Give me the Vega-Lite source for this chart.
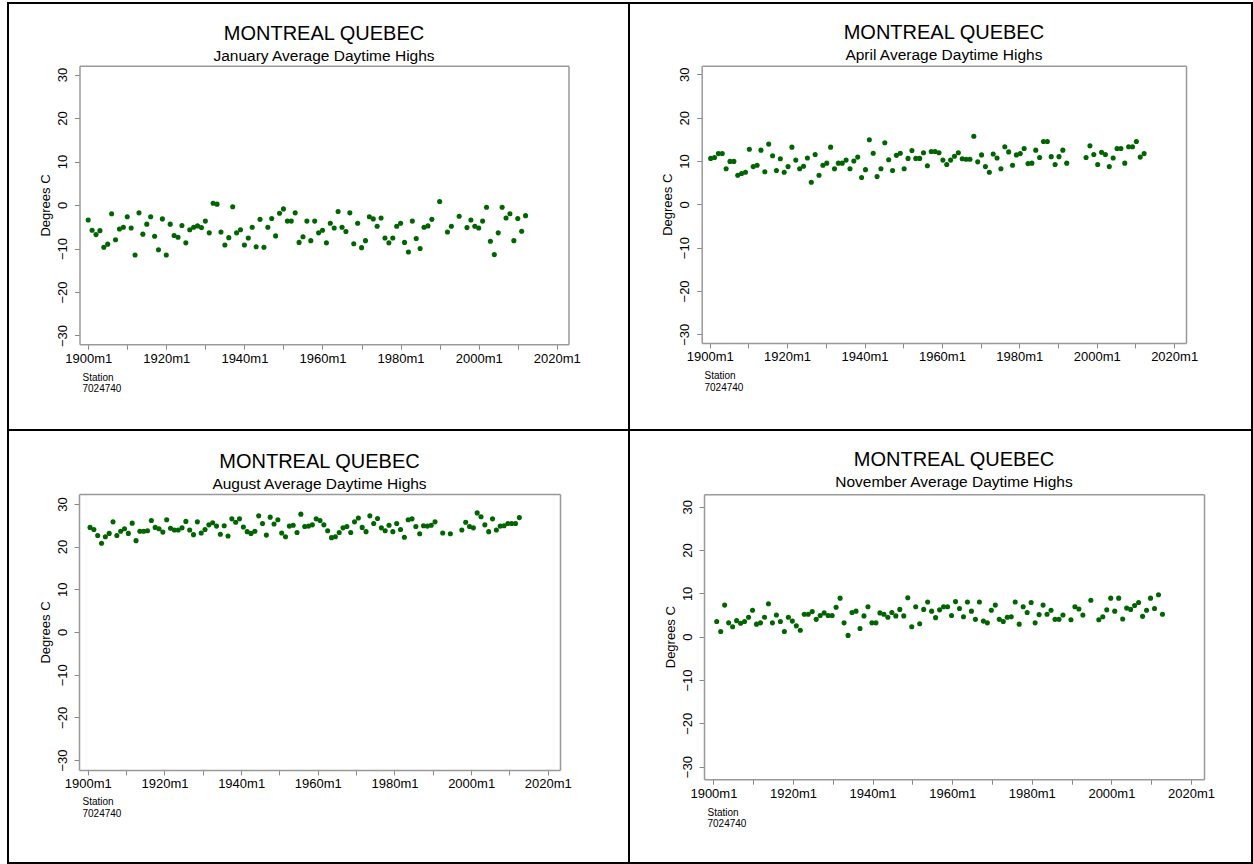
{
"$schema": "https://vega.github.io/schema/vega-lite/v6.json",
"padding": {"left": 7, "top": 2, "right": 0, "bottom": 0},
"background": "white",
"columns": 2,
"spacing": 0,
"bounds": "flush",
"align": "each",
"datasets": {
"jan": [
{"date":"1900-01","t":-3.45},{"date":"1901-01","t":-5.8},{"date":"1902-01","t":-6.8},{"date":"1903-01","t":-5.9},{"date":"1904-01","t":-9.7},{"date":"1905-01","t":-9.0},{"date":"1906-01","t":-2.0},{"date":"1907-01","t":-8.0},{"date":"1908-01","t":-5.5},{"date":"1909-01","t":-5.1},
{"date":"1910-01","t":-2.7},{"date":"1911-01","t":-5.3},{"date":"1912-01","t":-11.5},{"date":"1913-01","t":-1.8},{"date":"1914-01","t":-6.7},{"date":"1915-01","t":-4.4},{"date":"1916-01","t":-2.7},{"date":"1917-01","t":-7.2},{"date":"1918-01","t":-10.3},{"date":"1919-01","t":-3.2},
{"date":"1920-01","t":-11.5},{"date":"1921-01","t":-4.4},{"date":"1922-01","t":-7.0},{"date":"1923-01","t":-7.4},{"date":"1924-01","t":-4.7},{"date":"1925-01","t":-8.7},{"date":"1926-01","t":-5.7},{"date":"1927-01","t":-5.1},{"date":"1928-01","t":-4.8},{"date":"1929-01","t":-5.2},
{"date":"1930-01","t":-3.7},{"date":"1931-01","t":-6.4},{"date":"1932-01","t":0.4},{"date":"1933-01","t":0.2},{"date":"1934-01","t":-6.2},{"date":"1935-01","t":-9.2},{"date":"1936-01","t":-7.5},{"date":"1937-01","t":-0.4},{"date":"1938-01","t":-6.4},{"date":"1939-01","t":-5.7},
{"date":"1940-01","t":-9.2},{"date":"1941-01","t":-7.6},{"date":"1942-01","t":-5.1},{"date":"1943-01","t":-9.6},{"date":"1944-01","t":-3.3},{"date":"1945-01","t":-9.7},{"date":"1946-01","t":-5.1},{"date":"1947-01","t":-3.1},{"date":"1948-01","t":-7.1},{"date":"1949-01","t":-1.9},
{"date":"1950-01","t":-0.9},{"date":"1951-01","t":-3.7},{"date":"1952-01","t":-3.7},{"date":"1953-01","t":-1.8},{"date":"1954-01","t":-8.6},{"date":"1955-01","t":-7.3},{"date":"1956-01","t":-3.7},{"date":"1957-01","t":-8.2},{"date":"1958-01","t":-3.7},{"date":"1959-01","t":-6.4},
{"date":"1960-01","t":-5.8},{"date":"1961-01","t":-8.7},{"date":"1962-01","t":-4.2},{"date":"1963-01","t":-5.3},{"date":"1964-01","t":-1.5},{"date":"1965-01","t":-5.1},{"date":"1966-01","t":-6.1},{"date":"1967-01","t":-1.8},{"date":"1968-01","t":-8.9},{"date":"1969-01","t":-4.2},
{"date":"1970-01","t":-9.8},{"date":"1971-01","t":-8.2},{"date":"1972-01","t":-2.7},{"date":"1973-01","t":-3.2},{"date":"1974-01","t":-4.9},{"date":"1975-01","t":-3.0},{"date":"1976-01","t":-7.6},{"date":"1977-01","t":-8.7},{"date":"1978-01","t":-7.6},{"date":"1979-01","t":-4.9},
{"date":"1980-01","t":-4.2},{"date":"1981-01","t":-8.6},{"date":"1982-01","t":-10.8},{"date":"1983-01","t":-3.7},{"date":"1984-01","t":-7.7},{"date":"1985-01","t":-10.0},{"date":"1986-01","t":-5.1},{"date":"1987-01","t":-4.8},{"date":"1988-01","t":-3.3},{"date":"1990-01","t":0.8},
{"date":"1992-01","t":-6.2},{"date":"1993-01","t":-4.9},{"date":"1995-01","t":-2.6},{"date":"1997-01","t":-5.2},{"date":"1998-01","t":-3.45},{"date":"1999-01","t":-4.9},{"date":"2000-01","t":-5.3},{"date":"2001-01","t":-3.7},{"date":"2002-01","t":-0.5},{"date":"2003-01","t":-8.35},
{"date":"2004-01","t":-11.4},{"date":"2005-01","t":-6.4},{"date":"2006-01","t":-0.5},{"date":"2007-01","t":-3.0},{"date":"2008-01","t":-2.0},{"date":"2009-01","t":-8.2},{"date":"2010-01","t":-3.1},{"date":"2011-01","t":-6.05},{"date":"2012-01","t":-2.45}
],
"apr": [
{"date":"1900-04","t":10.6},{"date":"1901-04","t":10.8},{"date":"1902-04","t":11.7},{"date":"1903-04","t":11.7},{"date":"1904-04","t":8.2},{"date":"1905-04","t":9.9},{"date":"1906-04","t":9.9},{"date":"1907-04","t":6.7},{"date":"1908-04","t":7.1},{"date":"1909-04","t":7.4},
{"date":"1910-04","t":12.7},{"date":"1911-04","t":8.7},{"date":"1912-04","t":9.0},{"date":"1913-04","t":12.5},{"date":"1914-04","t":7.5},{"date":"1915-04","t":13.9},{"date":"1916-04","t":11.2},{"date":"1917-04","t":7.8},{"date":"1918-04","t":10.5},{"date":"1919-04","t":7.4},
{"date":"1920-04","t":8.7},{"date":"1921-04","t":13.2},{"date":"1922-04","t":10.2},{"date":"1923-04","t":8.2},{"date":"1924-04","t":8.8},{"date":"1925-04","t":10.7},{"date":"1926-04","t":5.1},{"date":"1927-04","t":11.5},{"date":"1928-04","t":6.7},{"date":"1929-04","t":9.0},
{"date":"1930-04","t":9.5},{"date":"1931-04","t":13.2},{"date":"1932-04","t":8.2},{"date":"1933-04","t":9.5},{"date":"1934-04","t":9.5},{"date":"1935-04","t":10.2},{"date":"1936-04","t":8.2},{"date":"1937-04","t":10.0},{"date":"1938-04","t":10.9},{"date":"1939-04","t":6.2},
{"date":"1940-04","t":8.0},{"date":"1941-04","t":14.9},{"date":"1942-04","t":11.8},{"date":"1943-04","t":6.4},{"date":"1944-04","t":8.2},{"date":"1945-04","t":14.2},{"date":"1946-04","t":10.3},{"date":"1947-04","t":7.8},{"date":"1948-04","t":11.3},{"date":"1949-04","t":11.8},
{"date":"1950-04","t":8.2},{"date":"1951-04","t":10.6},{"date":"1952-04","t":12.4},{"date":"1953-04","t":10.6},{"date":"1954-04","t":10.6},{"date":"1955-04","t":11.9},{"date":"1956-04","t":8.9},{"date":"1957-04","t":12.2},{"date":"1958-04","t":12.2},{"date":"1959-04","t":11.9},
{"date":"1960-04","t":10.2},{"date":"1961-04","t":9.2},{"date":"1962-04","t":10.2},{"date":"1963-04","t":11.1},{"date":"1964-04","t":11.9},{"date":"1965-04","t":10.5},{"date":"1966-04","t":10.4},{"date":"1967-04","t":10.4},{"date":"1968-04","t":15.7},{"date":"1969-04","t":9.8},
{"date":"1970-04","t":11.4},{"date":"1971-04","t":8.7},{"date":"1972-04","t":7.4},{"date":"1973-04","t":11.6},{"date":"1974-04","t":10.7},{"date":"1975-04","t":8.2},{"date":"1976-04","t":13.3},{"date":"1977-04","t":12.1},{"date":"1978-04","t":9.0},{"date":"1979-04","t":11.4},
{"date":"1980-04","t":11.7},{"date":"1981-04","t":12.9},{"date":"1982-04","t":9.4},{"date":"1983-04","t":9.5},{"date":"1984-04","t":12.5},{"date":"1985-04","t":10.8},{"date":"1986-04","t":14.5},{"date":"1987-04","t":14.5},{"date":"1988-04","t":11.0},{"date":"1989-04","t":9.2},
{"date":"1990-04","t":11.0},{"date":"1991-04","t":12.5},{"date":"1992-04","t":9.5},{"date":"1997-04","t":10.8},{"date":"1998-04","t":13.5},{"date":"1999-04","t":11.5},{"date":"2000-04","t":9.2},{"date":"2001-04","t":12.0},{"date":"2002-04","t":11.5},{"date":"2003-04","t":8.7},
{"date":"2004-04","t":10.7},{"date":"2005-04","t":12.9},{"date":"2006-04","t":12.9},{"date":"2007-04","t":9.5},{"date":"2008-04","t":13.3},{"date":"2009-04","t":13.3},{"date":"2010-04","t":14.5},{"date":"2011-04","t":10.9},{"date":"2012-04","t":11.7}
],
"aug": [
{"date":"1900-08","t":24.5},{"date":"1901-08","t":24.0},{"date":"1902-08","t":22.6},{"date":"1903-08","t":20.8},{"date":"1904-08","t":22.3},{"date":"1905-08","t":23.1},{"date":"1906-08","t":25.8},{"date":"1907-08","t":22.6},{"date":"1908-08","t":23.6},{"date":"1909-08","t":24.2},
{"date":"1910-08","t":23.1},{"date":"1911-08","t":25.5},{"date":"1912-08","t":21.4},{"date":"1913-08","t":23.6},{"date":"1914-08","t":23.6},{"date":"1915-08","t":23.7},{"date":"1916-08","t":26.1},{"date":"1917-08","t":24.5},{"date":"1918-08","t":24.2},{"date":"1919-08","t":23.4},
{"date":"1920-08","t":26.3},{"date":"1921-08","t":24.3},{"date":"1922-08","t":23.9},{"date":"1923-08","t":23.9},{"date":"1924-08","t":24.4},{"date":"1925-08","t":25.9},{"date":"1926-08","t":23.9},{"date":"1927-08","t":22.8},{"date":"1928-08","t":25.8},{"date":"1929-08","t":23.2},
{"date":"1930-08","t":24.0},{"date":"1931-08","t":25.1},{"date":"1932-08","t":25.6},{"date":"1933-08","t":24.8},{"date":"1934-08","t":22.9},{"date":"1935-08","t":24.9},{"date":"1936-08","t":22.5},{"date":"1937-08","t":26.5},{"date":"1938-08","t":25.7},{"date":"1939-08","t":26.5},
{"date":"1940-08","t":24.6},{"date":"1941-08","t":23.5},{"date":"1942-08","t":23.1},{"date":"1943-08","t":23.6},{"date":"1944-08","t":27.2},{"date":"1945-08","t":25.4},{"date":"1946-08","t":22.7},{"date":"1947-08","t":26.9},{"date":"1948-08","t":25.3},{"date":"1949-08","t":26.3},
{"date":"1950-08","t":23.2},{"date":"1951-08","t":22.3},{"date":"1952-08","t":24.8},{"date":"1953-08","t":25.0},{"date":"1954-08","t":23.3},{"date":"1955-08","t":27.6},{"date":"1956-08","t":24.7},{"date":"1957-08","t":24.8},{"date":"1958-08","t":25.1},{"date":"1959-08","t":26.5},
{"date":"1960-08","t":26.1},{"date":"1961-08","t":25.1},{"date":"1962-08","t":23.7},{"date":"1963-08","t":22.1},{"date":"1964-08","t":22.3},{"date":"1965-08","t":23.3},{"date":"1966-08","t":24.4},{"date":"1967-08","t":24.7},{"date":"1968-08","t":23.3},{"date":"1969-08","t":25.8},
{"date":"1970-08","t":26.7},{"date":"1971-08","t":24.5},{"date":"1972-08","t":23.5},{"date":"1973-08","t":27.2},{"date":"1974-08","t":25.4},{"date":"1975-08","t":26.6},{"date":"1976-08","t":24.4},{"date":"1977-08","t":23.7},{"date":"1978-08","t":25.0},{"date":"1979-08","t":23.5},
{"date":"1980-08","t":25.4},{"date":"1981-08","t":24.0},{"date":"1982-08","t":22.2},{"date":"1983-08","t":26.3},{"date":"1984-08","t":26.5},{"date":"1985-08","t":24.7},{"date":"1986-08","t":23.0},{"date":"1987-08","t":24.9},{"date":"1988-08","t":24.8},{"date":"1989-08","t":25.0},
{"date":"1990-08","t":25.8},{"date":"1992-08","t":23.2},{"date":"1994-08","t":23.0},{"date":"1997-08","t":23.9},{"date":"1998-08","t":25.7},{"date":"1999-08","t":24.7},{"date":"2000-08","t":24.4},{"date":"2001-08","t":27.9},{"date":"2002-08","t":27.0},{"date":"2003-08","t":25.1},
{"date":"2004-08","t":23.5},{"date":"2005-08","t":26.5},{"date":"2006-08","t":23.9},{"date":"2007-08","t":24.8},{"date":"2008-08","t":24.9},{"date":"2009-08","t":25.4},{"date":"2010-08","t":25.4},{"date":"2011-08","t":25.4},{"date":"2012-08","t":26.8}
],
"nov": [
{"date":"1900-11","t":3.5},{"date":"1901-11","t":1.2},{"date":"1902-11","t":7.3},{"date":"1903-11","t":3.2},{"date":"1904-11","t":2.3},{"date":"1905-11","t":3.7},{"date":"1906-11","t":3.1},{"date":"1907-11","t":3.5},{"date":"1908-11","t":4.5},{"date":"1909-11","t":6.1},
{"date":"1910-11","t":2.9},{"date":"1911-11","t":3.2},{"date":"1912-11","t":4.5},{"date":"1913-11","t":7.6},{"date":"1914-11","t":3.2},{"date":"1915-11","t":5.0},{"date":"1916-11","t":3.5},{"date":"1917-11","t":1.2},{"date":"1918-11","t":4.5},{"date":"1919-11","t":3.6},
{"date":"1920-11","t":2.5},{"date":"1921-11","t":1.5},{"date":"1922-11","t":5.2},{"date":"1923-11","t":5.2},{"date":"1924-11","t":5.8},{"date":"1925-11","t":4.0},{"date":"1926-11","t":4.9},{"date":"1927-11","t":5.5},{"date":"1928-11","t":4.9},{"date":"1929-11","t":4.9},
{"date":"1930-11","t":6.8},{"date":"1931-11","t":8.9},{"date":"1932-11","t":3.2},{"date":"1933-11","t":0.3},{"date":"1934-11","t":5.6},{"date":"1935-11","t":5.9},{"date":"1936-11","t":1.9},{"date":"1937-11","t":4.8},{"date":"1938-11","t":6.9},{"date":"1939-11","t":3.2},
{"date":"1940-11","t":3.2},{"date":"1941-11","t":5.5},{"date":"1942-11","t":5.2},{"date":"1943-11","t":4.5},{"date":"1944-11","t":5.6},{"date":"1945-11","t":4.8},{"date":"1946-11","t":6.3},{"date":"1947-11","t":4.8},{"date":"1948-11","t":9.0},{"date":"1949-11","t":2.3},
{"date":"1950-11","t":6.9},{"date":"1951-11","t":3.0},{"date":"1952-11","t":6.3},{"date":"1953-11","t":8.0},{"date":"1954-11","t":5.9},{"date":"1955-11","t":4.4},{"date":"1956-11","t":6.2},{"date":"1957-11","t":6.9},{"date":"1958-11","t":6.9},{"date":"1959-11","t":4.9},
{"date":"1960-11","t":8.1},{"date":"1961-11","t":6.5},{"date":"1962-11","t":4.6},{"date":"1963-11","t":8.0},{"date":"1964-11","t":5.9},{"date":"1965-11","t":4.0},{"date":"1966-11","t":8.0},{"date":"1967-11","t":3.6},{"date":"1968-11","t":3.2},{"date":"1969-11","t":6.1},
{"date":"1970-11","t":7.3},{"date":"1971-11","t":4.0},{"date":"1972-11","t":3.5},{"date":"1973-11","t":4.5},{"date":"1974-11","t":4.6},{"date":"1975-11","t":8.0},{"date":"1976-11","t":2.9},{"date":"1977-11","t":6.9},{"date":"1978-11","t":5.6},{"date":"1979-11","t":7.9},
{"date":"1980-11","t":3.2},{"date":"1981-11","t":5.1},{"date":"1982-11","t":7.3},{"date":"1983-11","t":5.2},{"date":"1984-11","t":6.1},{"date":"1985-11","t":4.0},{"date":"1986-11","t":4.0},{"date":"1987-11","t":5.0},{"date":"1989-11","t":3.9},{"date":"1990-11","t":6.9},
{"date":"1991-11","t":6.4},{"date":"1992-11","t":5.0},{"date":"1994-11","t":8.4},{"date":"1996-11","t":3.9},{"date":"1997-11","t":4.6},{"date":"1998-11","t":6.2},{"date":"1999-11","t":8.9},{"date":"2000-11","t":5.9},{"date":"2001-11","t":8.9},{"date":"2002-11","t":4.1},
{"date":"2003-11","t":6.6},{"date":"2004-11","t":6.3},{"date":"2005-11","t":7.2},{"date":"2006-11","t":7.9},{"date":"2007-11","t":4.7},{"date":"2008-11","t":6.1},{"date":"2009-11","t":8.9},{"date":"2010-11","t":6.5},{"date":"2011-11","t":9.7},{"date":"2012-11","t":5.2}
]
},
"concat": [
{
"width": 621, "height": 427,
"data": {"name": "jan"},
"title": {"text": "MONTREAL QUEBEC", "subtitle": "January Average Daytime Highs", "dx": 5.5, "dy": 65},
"layer": [
{"mark": {"type": "circle", "size": 26, "color": "#006400", "opacity": 1},
"encoding": {
"x": {"field": "date", "type": "temporal", "scale": {"type": "utc", "domain": [{"year":1897,"month":10,"date":9,"utc":true},{"year":2022,"month":12,"date":30,"utc":true}], "range": [71.5, 560.5]},
"axis": {"orient": "bottom", "offset": -85.8, "values": [{"year":1900,"utc":true},{"year":1910,"utc":true},{"year":1920,"utc":true},{"year":1930,"utc":true},{"year":1940,"utc":true},{"year":1950,"utc":true},{"year":1960,"utc":true},{"year":1970,"utc":true},{"year":1980,"utc":true},{"year":1990,"utc":true},{"year":2000,"utc":true},{"year":2010,"utc":true},{"year":2020,"utc":true}],
"labelExpr": "utcyear(datum.value) % 20 === 0 ? utcyear(datum.value) + 'm1' : ''", "labelFlush": false, "labelOverlap": false, "labelPadding": 3,
"title": ["Station", "7024740"], "titleX": 74, "titleY": 28, "titleAlign": "left", "titleAnchor": "start", "titleBaseline": "top", "titleFontSize": 10, "titleLineHeight": 11.5, "titleAngle": 0}},
"y": {"field": "t", "type": "quantitative", "scale": {"domain": [-32, 32], "range": [341.2, 62.8], "nice": false, "zero": false},
"axis": {"orient": "left", "offset": -71.5, "values": [-30,-20,-10,0,10,20,30], "labelAngle": -90, "labelAlign": "center", "labelBaseline": "bottom", "labelPadding": 5, "title": "Degrees C", "titlePadding": 4}}
}},
{"mark": {"type": "circle", "size": 26, "opacity": 0},
"encoding": {
"x": {"field": "date", "type": "temporal", "scale": {"type": "utc", "domain": [{"year":1897,"month":10,"date":9,"utc":true},{"year":2022,"month":12,"date":30,"utc":true}], "range": [71.5, 560.5]},
"axis": {"orient": "top", "offset": -62.8, "labels": false, "ticks": false, "title": null}},
"y": {"field": "t", "type": "quantitative", "scale": {"domain": [-32, 32], "range": [341.2, 62.8], "nice": false, "zero": false},
"axis": {"orient": "right", "offset": -60.5, "labels": false, "ticks": false, "title": null}}
}}
],
"resolve": {"axis": {"x": "independent", "y": "independent"}}
},
{
"width": 623, "height": 427,
"data": {"name": "apr"},
"title": {"text": "MONTREAL QUEBEC", "subtitle": "April Average Daytime Highs", "dx": 3.4, "dy": 64},
"layer": [
{"mark": {"type": "circle", "size": 26, "color": "#006400", "opacity": 1},
"encoding": {
"x": {"field": "date", "type": "temporal", "scale": {"type": "utc", "domain": [{"year":1897,"month":12,"date":7,"utc":true},{"year":2023,"month":1,"date":26,"utc":true}], "range": [72.7, 557]},
"axis": {"orient": "bottom", "offset": -87.1, "values": [{"year":1900,"utc":true},{"year":1910,"utc":true},{"year":1920,"utc":true},{"year":1930,"utc":true},{"year":1940,"utc":true},{"year":1950,"utc":true},{"year":1960,"utc":true},{"year":1970,"utc":true},{"year":1980,"utc":true},{"year":1990,"utc":true},{"year":2000,"utc":true},{"year":2010,"utc":true},{"year":2020,"utc":true}],
"labelExpr": "utcyear(datum.value) % 20 === 0 ? utcyear(datum.value) + 'm1' : ''", "labelFlush": false, "labelOverlap": false, "labelPadding": 3,
"title": ["Station", "7024740"], "titleX": 75, "titleY": 28, "titleAlign": "left", "titleAnchor": "start", "titleBaseline": "top", "titleFontSize": 10, "titleLineHeight": 11.5, "titleAngle": 0}},
"y": {"field": "t", "type": "quantitative", "scale": {"domain": [-32, 32], "range": [339.9, 62.7], "nice": false, "zero": false},
"axis": {"orient": "left", "offset": -72.7, "values": [-30,-20,-10,0,10,20,30], "labelAngle": -90, "labelAlign": "center", "labelBaseline": "bottom", "labelPadding": 5, "title": "Degrees C", "titlePadding": 4}}
}},
{"mark": {"type": "circle", "size": 26, "opacity": 0},
"encoding": {
"x": {"field": "date", "type": "temporal", "scale": {"type": "utc", "domain": [{"year":1897,"month":12,"date":7,"utc":true},{"year":2023,"month":1,"date":26,"utc":true}], "range": [72.7, 557]},
"axis": {"orient": "top", "offset": -62.7, "labels": false, "ticks": false, "title": null}},
"y": {"field": "t", "type": "quantitative", "scale": {"domain": [-32, 32], "range": [339.9, 62.7], "nice": false, "zero": false},
"axis": {"orient": "right", "offset": -66, "labels": false, "ticks": false, "title": null}}
}}
],
"resolve": {"axis": {"x": "independent", "y": "independent"}}
},
{
"width": 621, "height": 433,
"data": {"name": "aug"},
"title": {"text": "MONTREAL QUEBEC", "subtitle": "August Average Daytime Highs", "dx": 1, "dy": 66.5},
"layer": [
{"mark": {"type": "circle", "size": 26, "color": "#006400", "opacity": 1},
"encoding": {
"x": {"field": "date", "type": "temporal", "scale": {"type": "utc", "domain": [{"year":1897,"month":9,"date":14,"utc":true},{"year":2023,"month":3,"date":9,"utc":true}], "range": [71, 552]},
"axis": {"orient": "bottom", "offset": -93.1, "values": [{"year":1900,"utc":true},{"year":1910,"utc":true},{"year":1920,"utc":true},{"year":1930,"utc":true},{"year":1940,"utc":true},{"year":1950,"utc":true},{"year":1960,"utc":true},{"year":1970,"utc":true},{"year":1980,"utc":true},{"year":1990,"utc":true},{"year":2000,"utc":true},{"year":2010,"utc":true},{"year":2020,"utc":true}],
"labelExpr": "utcyear(datum.value) % 20 === 0 ? utcyear(datum.value) + 'm1' : ''", "labelFlush": false, "labelOverlap": false, "labelPadding": 3,
"title": ["Station", "7024740"], "titleX": 74, "titleY": 27, "titleAlign": "left", "titleAnchor": "start", "titleBaseline": "top", "titleFontSize": 10, "titleLineHeight": 11.5, "titleAngle": 0}},
"y": {"field": "t", "type": "quantitative", "scale": {"domain": [-32.3, 32.3], "range": [339.9, 64.1], "nice": false, "zero": false},
"axis": {"orient": "left", "offset": -71, "values": [-30,-20,-10,0,10,20,30], "labelAngle": -90, "labelAlign": "center", "labelBaseline": "bottom", "labelPadding": 5, "title": "Degrees C", "titlePadding": 4}}
}},
{"mark": {"type": "circle", "size": 26, "opacity": 0},
"encoding": {
"x": {"field": "date", "type": "temporal", "scale": {"type": "utc", "domain": [{"year":1897,"month":9,"date":14,"utc":true},{"year":2023,"month":3,"date":9,"utc":true}], "range": [71, 552]},
"axis": {"orient": "top", "offset": -64.1, "labels": false, "ticks": false, "title": null}},
"y": {"field": "t", "type": "quantitative", "scale": {"domain": [-32.3, 32.3], "range": [339.9, 64.1], "nice": false, "zero": false},
"axis": {"orient": "right", "offset": -69, "labels": false, "ticks": false, "title": null}}
}}
],
"resolve": {"axis": {"x": "independent", "y": "independent"}}
},
{
"width": 623, "height": 433,
"data": {"name": "nov"},
"title": {"text": "MONTREAL QUEBEC", "subtitle": "November Average Daytime Highs", "dx": 13.5, "dy": 64},
"layer": [
{"mark": {"type": "circle", "size": 26, "color": "#006400", "opacity": 1},
"encoding": {
"x": {"field": "date", "type": "temporal", "scale": {"type": "utc", "domain": [{"year":1897,"month":8,"date":21,"utc":true},{"year":2023,"month":4,"date":8,"utc":true}], "range": [75, 575]},
"axis": {"orient": "bottom", "offset": -83.8, "values": [{"year":1900,"utc":true},{"year":1910,"utc":true},{"year":1920,"utc":true},{"year":1930,"utc":true},{"year":1940,"utc":true},{"year":1950,"utc":true},{"year":1960,"utc":true},{"year":1970,"utc":true},{"year":1980,"utc":true},{"year":1990,"utc":true},{"year":2000,"utc":true},{"year":2010,"utc":true},{"year":2020,"utc":true}],
"labelExpr": "utcyear(datum.value) % 20 === 0 ? utcyear(datum.value) + 'm1' : ''", "labelFlush": false, "labelOverlap": false, "labelPadding": 3,
"title": ["Station", "7024740"], "titleX": 78, "titleY": 28, "titleAlign": "left", "titleAnchor": "start", "titleBaseline": "top", "titleFontSize": 10, "titleLineHeight": 11.5, "titleAngle": 0}},
"y": {"field": "t", "type": "quantitative", "scale": {"domain": [-32.9, 32.9], "range": [349.2, 64.2], "nice": false, "zero": false},
"axis": {"orient": "left", "offset": -75, "values": [-30,-20,-10,0,10,20,30], "labelAngle": -90, "labelAlign": "center", "labelBaseline": "bottom", "labelPadding": 5, "title": "Degrees C", "titlePadding": 4}}
}},
{"mark": {"type": "circle", "size": 26, "opacity": 0},
"encoding": {
"x": {"field": "date", "type": "temporal", "scale": {"type": "utc", "domain": [{"year":1897,"month":8,"date":21,"utc":true},{"year":2023,"month":4,"date":8,"utc":true}], "range": [75, 575]},
"axis": {"orient": "top", "offset": -64.2, "labels": false, "ticks": false, "title": null}},
"y": {"field": "t", "type": "quantitative", "scale": {"domain": [-32.9, 32.9], "range": [349.2, 64.2], "nice": false, "zero": false},
"axis": {"orient": "right", "offset": -48, "labels": false, "ticks": false, "title": null}}
}}
],
"resolve": {"axis": {"x": "independent", "y": "independent"}}
}
],
"config": {
"font": "Liberation Sans",
"view": {"stroke": "black", "strokeWidth": 2},
"axis": {"grid": false, "domainColor": "#999999", "domainWidth": 1.5, "tickColor": "#888888", "tickSize": 5, "tickWidth": 1, "labelColor": "black", "labelFontSize": 13, "labelFont": "Liberation Sans", "titleColor": "black", "titleFont": "Liberation Sans", "titleFontWeight": "normal", "titleFontSize": 13},
"title": {"font": "Liberation Sans", "fontSize": 20, "fontWeight": "normal", "color": "black", "subtitleFont": "Liberation Sans", "subtitleFontSize": 15.5, "subtitleColor": "black", "subtitlePadding": 5, "anchor": "middle", "frame": "group", "offset": 0}
}
}
